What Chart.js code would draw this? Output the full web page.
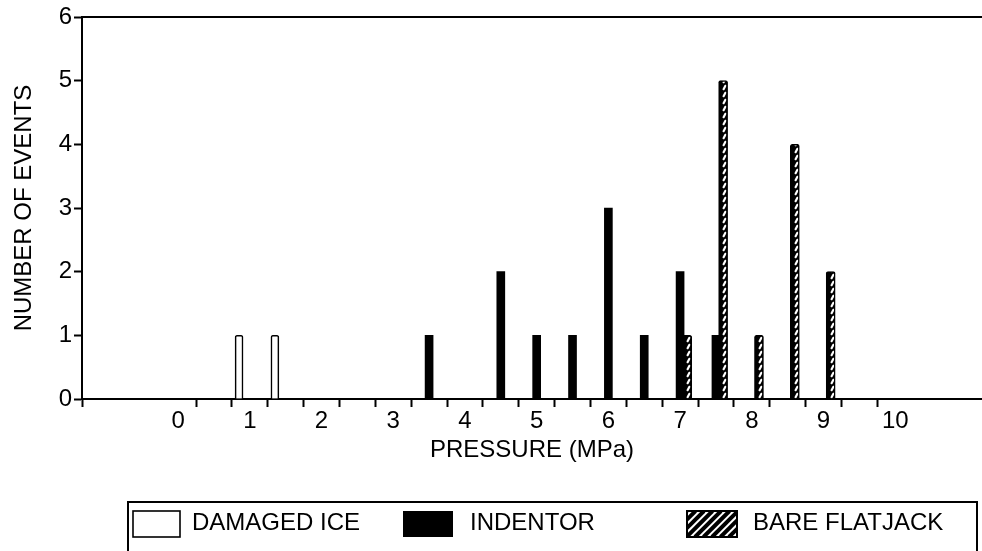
<!DOCTYPE html>
<html><head><meta charset="utf-8">
<script src="https://cdn.jsdelivr.net/npm/chart.js@4"></script>
<style>html,body{margin:0;padding:0;background:#fff}#wrap{width:982px;height:551px;position:relative}</style>
</head><body><div id="wrap"><canvas id="c" width="982" height="551"></canvas></div>
<script>
// ---- data ----
const xAxisTitle = 'PRESSURE (MPa)';
const yAxisTitle = 'NUMBER OF EVENTS';
const xTickLabels = [0, 1, 2, 3, 4, 5, 6, 7, 8, 9, 10];
const yTickValues = [0, 1, 2, 3, 4, 5, 6];
const seriesNames = ['DAMAGED ICE', 'INDENTOR', 'BARE FLATJACK'];
const damagedIceX = [0.85, 1.35];
const damagedIceY = [1, 1];
const indentorX = [3.5, 4.5, 5.0, 5.5, 6.0, 6.5, 7.0, 7.5];
const indentorY = [1, 2, 1, 1, 3, 1, 2, 1];
const flatjackX = [7.1, 7.6, 8.1, 8.6, 9.1];
const flatjackY = [1, 5, 1, 4, 2];

// ---- helpers ----
const FONT = '"Liberation Sans", Arial, Helvetica, sans-serif';
Chart.defaults.font.family = FONT;
Chart.defaults.font.size = 24;
Chart.defaults.color = '#000';

const X_MIN = -1.34, X_MAX = 11.21;
const pts = (xs, ys) => xs.map((x, i) => ({x: x, y: ys[i]}));

function makeBarPattern() {
  const c = document.createElement('canvas');
  c.width = 9; c.height = 7;
  const g = c.getContext('2d');
  g.fillStyle = '#000'; g.fillRect(0, 0, 9, 7);
  g.strokeStyle = '#fff'; g.lineWidth = 2.2; g.lineCap = 'round';
  g.beginPath(); g.moveTo(3.6, 5.2); g.lineTo(5.4, 1.8); g.stroke();
  return document.getElementById('c').getContext('2d').createPattern(c, 'repeat');
}
const hatch = makeBarPattern();

// minor tick marks at n+0.25 and n+0.75 between integer labels
const xTickValues = [X_MIN];
xTickLabels.forEach((n, i) => {
  xTickValues.push(n);
  if (i < xTickLabels.length - 1) { xTickValues.push(n + 0.25, n + 0.75); }
});

const legendPlugin = {
  id: 'boxLegend',
  afterDraw(chart) {
    const ctx = chart.ctx;
    ctx.save();
    ctx.strokeStyle = '#000';
    ctx.lineWidth = 2;
    ctx.strokeRect(128, 502, 849, 80);
    const slots = [{sx: 133, sw: 47, tx: 192}, {sx: 403, sw: 50, tx: 470}, {sx: 687, sw: 50, tx: 753}];
    const sy = 511, sh = 26;
    chart.data.datasets.forEach((ds, i) => {
      const s = slots[i];
      if (i === 0) {
        ctx.fillStyle = '#fff'; ctx.fillRect(s.sx, sy, s.sw, sh);
        ctx.lineWidth = 1.6; ctx.strokeRect(s.sx, sy, s.sw, sh);
      } else if (i === 1) {
        ctx.fillStyle = '#000'; ctx.fillRect(s.sx, sy, s.sw, sh);
      } else {
        ctx.save();
        ctx.fillStyle = '#fff'; ctx.fillRect(s.sx, sy, s.sw, sh);
        ctx.beginPath(); ctx.rect(s.sx, sy, s.sw, sh); ctx.clip();
        ctx.lineWidth = 4; ctx.strokeStyle = '#000';
        for (let k = -sh; k < s.sw + sh; k += 8.5) {
          ctx.beginPath(); ctx.moveTo(s.sx + k, sy + sh); ctx.lineTo(s.sx + k + sh, sy); ctx.stroke();
        }
        ctx.restore();
        ctx.lineWidth = 2; ctx.strokeRect(s.sx, sy, s.sw, sh);
      }
      ctx.fillStyle = '#000';
      ctx.font = '24px ' + FONT;
      ctx.textBaseline = 'middle';
      ctx.textAlign = 'left';
      ctx.fillText(ds.label, s.tx, 523);
    });
    ctx.restore();
  }
};

new Chart(document.getElementById('c'), {
  type: 'bar',
  data: {
    datasets: [
      {label: seriesNames[0], data: pts(damagedIceX, damagedIceY), backgroundColor: '#fff',
       borderColor: '#000', borderWidth: 1.6, borderSkipped: 'bottom', borderRadius: {topLeft: 2, topRight: 2},
       barThickness: 8, grouped: false},
      {label: seriesNames[1], data: pts(indentorX, indentorY), backgroundColor: '#000',
       borderColor: '#000', borderWidth: 0, barThickness: 8, grouped: false},
      {label: seriesNames[2], data: pts(flatjackX, flatjackY), backgroundColor: hatch,
       borderColor: '#000', borderWidth: 1.5, borderSkipped: 'bottom', borderRadius: {topLeft: 2, topRight: 2},
       barThickness: 9, grouped: false}
    ]
  },
  options: {
    responsive: false,
    animation: false,
    devicePixelRatio: 1,
    layout: {padding: {left: 0, right: 0, top: 0, bottom: 82}},
    plugins: {legend: {display: false}, tooltip: {enabled: false}},
    scales: {
      x: {
        type: 'linear', position: 'bottom', min: X_MIN, max: X_MAX, offset: false,
        afterBuildTicks: s => { s.ticks = xTickValues.map(v => ({value: v})); },
        afterFit: s => { s.height = 70; },
        ticks: {autoSkip: false, maxRotation: 0, minRotation: 0, padding: 0,
          callback: v => (Number.isInteger(v) && xTickLabels.includes(v)) ? String(v) : ''},
        grid: {display: true, drawOnChartArea: false, drawTicks: true, tickLength: 8, tickWidth: 2, offset: false,
          tickColor: c => (c.tick && Number.isInteger(c.tick.value)) ? 'rgba(0,0,0,0)' : '#000'},
        border: {display: true, color: '#000', width: 2},
        title: {display: true, text: xAxisTitle, padding: {top: 0, bottom: 4}}
      },
      x2: {
        type: 'linear', position: 'top', min: X_MIN, max: X_MAX,
        afterFit: s => { s.height = 17; },
        ticks: {display: false},
        grid: {display: false, drawTicks: false},
        border: {display: true, color: '#000', width: 2}
      },
      y: {
        type: 'linear', position: 'left', min: 0, max: 6,
        afterBuildTicks: s => { s.ticks = yTickValues.map(v => ({value: v})); },
        afterFit: s => { s.width = 82; },
        ticks: {padding: 2},
        grid: {display: true, drawOnChartArea: false, drawTicks: true, tickLength: 8, tickWidth: 2, tickColor: '#000'},
        border: {display: true, color: '#000', width: 2},
        title: {display: true, text: yAxisTitle, padding: {top: 10, bottom: 0}}
      }
    }
  },
  plugins: [legendPlugin]
});
</script>
</body></html>
